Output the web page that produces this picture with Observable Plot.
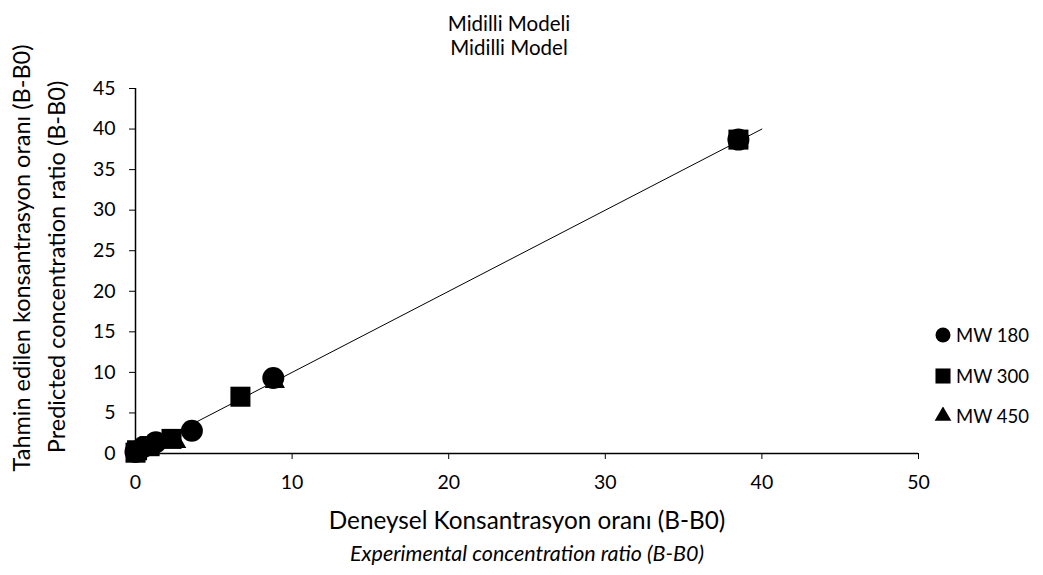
<!DOCTYPE html>
<html>
<head>
<meta charset="utf-8">
<script src="https://cdn.jsdelivr.net/npm/d3@7"></script>
<script src="https://cdn.jsdelivr.net/npm/@observablehq/plot@0.6"></script>
<style>
  body { margin: 0; background: #fff; font-family: Lato, "Open Sans", sans-serif; }
  #wrap { position: relative; width: 1043px; height: 575px; }
  #legend { position: absolute; left: 934px; top: 315px; font-size: 18.5px; color: #000; }
  .item { display: flex; align-items: center; height: 40.5px; }
  .item svg { margin-right: 4px; }
</style>
</head>
<body>
<div id="wrap"></div>
<script>
// ---- data ----
const seriesNames = ["MW 180", "MW 300", "MW 450"];
const seriesSymbols = ["circle", "square", "triangle"];

const mw180X = [0.0, 0.5, 1.3, 3.6, 8.8, 38.5];
const mw180Y = [0.2, 0.8, 1.4, 2.8, 9.3, 38.7];

const mw300X = [0.0, 0.1, 0.9, 2.3, 6.7, 38.5];
const mw300Y = [0.1, 0.4, 0.9, 1.8, 7.0, 38.7];

const mw450X = [0.1, 0.4, 1.0, 2.6, 8.9, 38.5];
const mw450Y = [0.1, 0.5, 0.9, 1.4, 8.8, 38.5];

const fitX = [0, 40];
const fitY = [0, 40];

const xTicks = [0, 10, 20, 30, 40, 50];
const yTicks = [0, 5, 10, 15, 20, 25, 30, 35, 40, 45];

const titleLines = ["Midilli Modeli", "Midilli Model"];
const xLabelLines = ["Deneysel Konsantrasyon oranı (B-B0)", "Experimental concentration ratio (B-B0)"];
const yLabelLines = ["Tahmin edilen konsantrasyon oranı (B-B0)", "Predicted concentration ratio (B-B0)"];

// ---- build tables ----
const toPts = (xs, ys, s) => xs.map((x, i) => ({x, y: ys[i], series: s}));
const tri = toPts(mw450X, mw450Y, "MW 450");
const circ = toPts(mw180X, mw180Y, "MW 180");
const sq = toPts(mw300X, mw300Y, "MW 300");
const fit = fitX.map((x, i) => ({x, y: fitY[i]}));

const font = "Lato, 'Open Sans', sans-serif";

const chart = Plot.plot({
  width: 1043,
  height: 575,
  marginLeft: 135,
  marginRight: 125,
  marginTop: 88,
  marginBottom: 122,
  style: { fontFamily: font, fontSize: "19px", color: "#000", background: "#fff", overflow: "visible" },
  x: { domain: [0, 50] },
  y: { domain: [0, 45] },
  symbol: { domain: seriesNames, range: seriesSymbols },
  marks: [
    Plot.axisX({ ticks: xTicks, tickSize: 6, tickPadding: 16, label: null, fontSize: 19.5 }),
    Plot.axisY({ ticks: yTicks, tickSize: 6, tickPadding: 14, label: null, fontSize: 19.5 }),
    Plot.ruleX([0], { stroke: "#000", strokeWidth: 1.5 }),
    Plot.ruleY([0], { stroke: "#000", strokeWidth: 1.5 }),
    Plot.line(fit, { x: "x", y: "y", stroke: "#000", strokeWidth: 1 }),
    Plot.dot(tri, { x: "x", y: "y", symbol: "series", fill: "#000", stroke: "none", r: 7.5 }),
    Plot.dot(circ, { x: "x", y: "y", symbol: "series", fill: "#000", stroke: "none", r: 11 }),
    Plot.dot(sq, { x: "x", y: "y", symbol: "series", fill: "#000", stroke: "none", r: 11.3 }),
    Plot.text([titleLines[0]], { text: d => d, frameAnchor: "top", dx: -18, dy: -72, fontSize: 20.5 }),
    Plot.text([titleLines[1]], { text: d => d, frameAnchor: "top", dx: -18, dy: -48, fontSize: 20.5 }),
    Plot.text([xLabelLines[0]], { text: d => d, frameAnchor: "bottom", dy: 75, fontSize: 24.3 }),
    Plot.text([xLabelLines[1]], { text: d => d, frameAnchor: "bottom", dy: 107, fontSize: 21.5, fontStyle: "italic" }),
    Plot.text([yLabelLines[0]], { text: d => d, frameAnchor: "left", textAnchor: "middle", dx: -113, dy: -13, rotate: -90, fontSize: 23.5 }),
    Plot.text([yLabelLines[1]], { text: d => d, frameAnchor: "left", textAnchor: "middle", dx: -78, dy: -4, rotate: -90, fontSize: 23.5 })
  ]
});

const wrap = document.getElementById("wrap");
wrap.appendChild(chart);

// ---- legend ----
const legend = document.createElement("div");
legend.id = "legend";
const d3Sym = { circle: d3.symbolCircle, square: d3.symbolSquare, triangle: d3.symbolTriangle };
const legendR = { circle: 7.5, square: 8.5, triangle: 6.2 };
seriesNames.forEach((name, i) => {
  const item = document.createElement("div");
  item.className = "item";
  const r = legendR[seriesSymbols[i]];
  const path = d3.symbol(d3Sym[seriesSymbols[i]], Math.PI * r * r)();
  item.innerHTML = `<svg width="18" height="18" viewBox="-9 -9 18 18"><path d="${path}" fill="#000"/></svg><span>${name}</span>`;
  legend.appendChild(item);
});
wrap.appendChild(legend);
</script>
</body>
</html>
